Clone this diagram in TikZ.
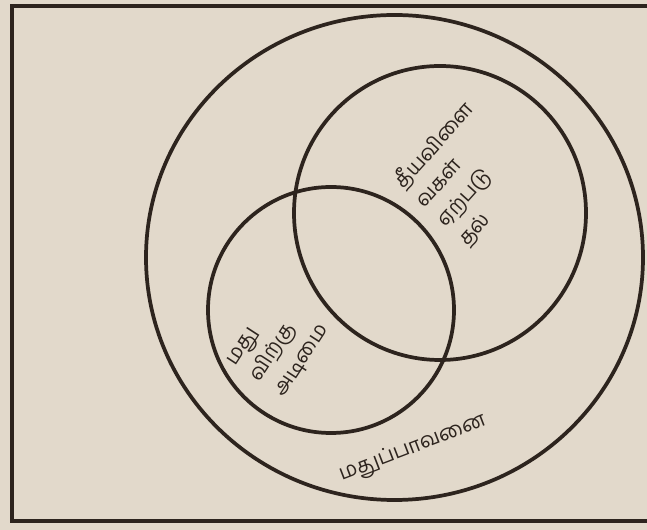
\documentclass[tikz,border=0pt]{standalone}
\usepackage{fontspec}
\newfontfamily\tamil[Script=Tamil]{Hind Madurai}
\definecolor{paper}{RGB}{226,217,203}
\definecolor{ink}{RGB}{45,36,30}
\begin{document}
\begin{tikzpicture}[x=0.75pt,y=-0.75pt,
  ring/.style={draw=ink,line width=2.8pt},
  frame/.style={draw=ink,line width=3.2pt},
  lab/.style={font=\tamil\fontsize{15.5}{21.5}\selectfont,text=ink,align=left,inner sep=0pt}]
\fill[paper] (0,0) rectangle (647,530);
\useasboundingbox (0,0) rectangle (647,530);
\draw[frame] (652,6) -- (12,6) -- (12,521) -- (652,521);
\draw[ring] (394.5,257.5) ellipse [x radius=248.5, y radius=242.5];
\draw[ring] (440,213) ellipse [x radius=146, y radius=147];
\draw[ring] (331,310) ellipse [x radius=123, y radius=123];
\node[lab,rotate=48] (harm) at (466,174) {தீயவிளை\\வகள்\\ஏற்படு\\தல்};
\node[lab,rotate=57] (addict) at (279,346) {மது\\விற்கு\\அடிமை};
\node[lab,rotate=21] (use) at (413,449) {மதுப்பாவனை};
\end{tikzpicture}
\end{document}
